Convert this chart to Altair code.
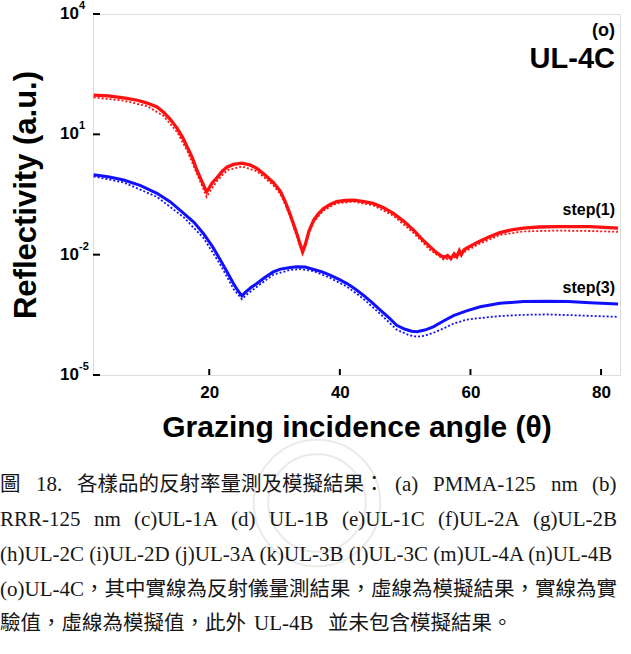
import altair as alt
import pandas as pd

# ---- reflectivity curves (angle in degrees, log10 of reflectivity) ----
ang_step1_meas = [2.3, 4.5, 6.9, 9.0, 10.5, 12.0, 13.0, 14.0, 15.1, 16.0, 16.6, 17.4, 18.1, 18.8,
                  19.3, 19.6, 19.9, 20.5, 21.2, 22.0, 22.7, 23.7, 25.0, 26.2, 27.3, 28.5, 29.8,
                  30.9, 31.7, 32.4, 33.3, 34.0, 34.3, 34.7, 35.3, 36.0, 36.7, 37.5, 38.5, 39.5,
                  40.8, 42.1, 43.5, 45.1, 46.7, 48.2, 49.8, 51.3, 52.5, 53.8, 54.8, 55.9, 56.5,
                  57.0, 57.5, 57.9, 58.3, 58.6, 59.0, 59.4, 60.4, 61.5, 63.0, 64.5, 66.3, 68.1,
                  70.5, 73.2, 76.0, 78.3, 80.5, 82.6]
log_step1_meas = [1.98, 1.96, 1.91, 1.85, 1.78, 1.68, 1.55, 1.38, 1.15, 0.90, 0.69, 0.42, 0.11, -0.15,
                  -0.33, -0.43, -0.36, -0.20, -0.08, 0.08, 0.18, 0.25, 0.28, 0.24, 0.15, -0.01, -0.20,
                  -0.42, -0.70, -1.00, -1.42, -1.78, -1.93, -1.75, -1.40, -1.14, -0.98, -0.85, -0.75, -0.68,
                  -0.65, -0.64, -0.67, -0.72, -0.83, -0.97, -1.17, -1.39, -1.60, -1.80, -1.95, -2.07, -2.02,
                  -2.10, -1.98, -2.05, -1.90, -2.00, -1.88, -1.84, -1.75, -1.66, -1.55, -1.45, -1.38, -1.34,
                  -1.31, -1.30, -1.30, -1.30, -1.32, -1.34]

ang_step1_sim = [2.3, 6.9, 10.5, 13.0, 15.1, 16.6, 18.1, 19.0, 19.6, 20.0, 21.2, 22.7, 25.0, 27.3,
                 29.8, 30.9, 31.7, 32.4, 33.3, 34.3, 35.3, 36.0, 37.5, 39.5, 42.1, 45.1, 48.2, 51.3,
                 53.8, 55.9, 57.4, 59.4, 61.5, 64.5, 68.1, 73.2, 78.3, 82.6]
log_step1_sim = [1.92, 1.84, 1.70, 1.46, 1.05, 0.60, 0.02, -0.32, -0.56, -0.45, -0.16, 0.10, 0.20, 0.08,
                 -0.27, -0.49, -0.77, -1.07, -1.48, -1.98, -1.45, -1.18, -0.90, -0.72, -0.68, -0.77, -1.03,
                 -1.46, -1.88, -2.12, -2.08, -1.90, -1.72, -1.51, -1.42, -1.40, -1.41, -1.43]

ang_step3_meas = [2.3, 4.5, 6.9, 9.5, 12.0, 14.0, 16.1, 17.7, 19.1, 20.5, 21.7, 22.8, 23.7, 24.4,
                  25.0, 25.6, 26.4, 27.3, 28.5, 29.8, 30.9, 32.4, 33.4, 34.7, 36.0, 37.3, 38.5, 39.8,
                  41.1, 42.3, 43.6, 44.9, 46.2, 47.5, 48.7, 50.0, 51.0, 51.8, 53.0, 54.3, 55.8, 57.4,
                  59.4, 61.5, 64.5, 68.1, 71.7, 75.0, 78.3, 82.6]
log_step3_meas = [-0.01, -0.06, -0.14, -0.28, -0.47, -0.68, -0.97, -1.20, -1.47, -1.80, -2.13, -2.45, -2.72, -2.90,
                  -3.03, -2.93, -2.82, -2.72, -2.57, -2.43, -2.36, -2.32, -2.30, -2.31, -2.37, -2.43, -2.51, -2.61,
                  -2.72, -2.85, -3.01, -3.19, -3.38, -3.57, -3.76, -3.86, -3.91, -3.92, -3.88, -3.80, -3.66, -3.52,
                  -3.40, -3.30, -3.21, -3.17, -3.16, -3.17, -3.20, -3.23]

ang_step3_sim = [2.3, 6.9, 12.0, 16.1, 19.1, 21.7, 23.7, 25.0, 25.7, 27.3, 29.8, 32.4, 34.0, 36.0,
                 38.5, 41.1, 43.6, 46.2, 48.7, 50.5, 51.8, 53.0, 54.3, 56.0, 57.4, 59.4, 61.5, 64.5,
                 68.1, 71.7, 75.7, 79.0, 82.6]
log_step3_sim = [-0.05, -0.20, -0.56, -1.07, -1.58, -2.25, -2.85, -3.11, -3.00, -2.80, -2.50, -2.38, -2.36, -2.41,
                 -2.58, -2.80, -3.10, -3.48, -3.87, -4.00, -4.05, -4.02, -3.95, -3.83, -3.72, -3.62, -3.58, -3.53,
                 -3.50, -3.49, -3.51, -3.53, -3.55]

x_tick_values = [20, 40, 60, 80]
y_tick_values = [1e4, 1e1, 1e-2, 1e-5]
y_tick_exponents = ["4", "1", "-2", "-5"]

# caption: one list of (text, left offset in px) runs per printed line (justified)
caption_runs = [
    [("圖", 0), ("18.", 36), ("各樣品的反射率量測及模擬結果：", 77), ("(a)", 395),
     ("PMMA-125", 433), ("nm", 551), ("(b)", 592)],
    [("RRR-125", 0), ("nm", 94), ("(c)UL-1A", 134), ("(d)", 231), ("UL-1B", 269),
     ("(e)UL-1C", 342), ("(f)UL-2A", 438), ("(g)UL-2B", 533)],
    [("(h)UL-2C (i)UL-2D (j)UL-3A (k)UL-3B (l)UL-3C (m)UL-4A (n)UL-4B", 0)],
    [("(o)UL-4C", 0), ("，其中實線為反射儀量測結果，虛線為模擬結果，實線為實", 84)],
    [("驗值，虛線為模擬值，此外", 0), ("UL-4B", 254), ("並未包含模擬結果。", 328)],
]
caption_line_y = [485, 520, 555, 590, 624]

W, H = 527, 361
LEFT, TOP = 93, 14
SANS = "Liberation Sans"
SERIF = "Liberation Serif"
CJK = "Noto Sans CJK TC"
RED = "#ff1010"
BLUE = "#1010ff"


def curve(angles, logs, name):
    return pd.DataFrame({"angle": angles, "refl": [10 ** v for v in logs], "series": name})


curves = pd.concat([
    curve(ang_step1_meas, log_step1_meas, "step1_meas"),
    curve(ang_step1_sim, log_step1_sim, "step1_sim"),
    curve(ang_step3_meas, log_step3_meas, "step3_meas"),
    curve(ang_step3_sim, log_step3_sim, "step3_sim"),
])

xscale = alt.Scale(domain=[2.2, 82.9], nice=False, zero=False)
yscale = alt.Scale(type="log", domain=[1e-5, 1e4], nice=False)

xaxis = alt.Axis(values=x_tick_values, ticks=False, domain=False, grid=False,
                 labelFont=SANS, labelFontWeight="bold", labelFontSize=17, labelColor="black",
                 labelPadding=9, title="Grazing incidence angle (θ)", titleFont=SANS,
                 titleFontWeight="bold", titleFontSize=30, titleColor="black", titlePadding=12)
yaxis = alt.Axis(labels=False, ticks=False, domain=False, grid=False,
                 title="Reflectivity (a.u.)", titleFont=SANS, titleFontWeight="bold",
                 titleFontSize=31, titleColor="black", titlePadding=51)

X = alt.X("angle:Q", scale=xscale, axis=xaxis)
Y = alt.Y("refl:Q", scale=yscale, axis=yaxis)

base = alt.Chart(curves)


def line(series, color, width, dash=None):
    kw = dict(color=color, strokeWidth=width, clip=True)
    if dash:
        kw["strokeDash"] = dash
    return base.transform_filter(alt.datum.series == series).mark_line(**kw).encode(x=X, y=Y)


lines = [
    line("step1_sim", RED, 1.8, [2, 2]),
    line("step1_meas", RED, 3.3),
    line("step3_sim", BLUE, 1.8, [2, 2]),
    line("step3_meas", BLUE, 3.0),
]

xt = pd.DataFrame({"angle": x_tick_values})
yt = pd.DataFrame({"refl": y_tick_values, "exp": y_tick_exponents})

# inward ticks on the bottom and left frame edges
x_ticks = alt.Chart(xt).mark_rule(color="black", strokeWidth=2).encode(
    x=X, y=alt.value(H), y2=alt.value(H - 6))
y_ticks = alt.Chart(yt).mark_rule(color="black", strokeWidth=2).encode(
    y=Y, x=alt.value(0), x2=alt.value(7))

# "10" with a raised exponent for each decade label
y_base_lbl = alt.Chart(yt).mark_text(font=SANS, fontWeight="bold", fontSize=17, align="right",
                                     baseline="middle", color="black").encode(
    y=Y, x=alt.value(-14), text=alt.value("10"))
y_exp_lbl = alt.Chart(yt).mark_text(font=SANS, fontWeight="bold", fontSize=11, align="left",
                                    baseline="middle", dy=-8, color="black").encode(
    y=Y, x=alt.value(-14), text="exp:N")


def label(txt, x, y, size, align="right", font=SANS, weight="bold", color="black"):
    return alt.Chart(pd.DataFrame({"t": [txt]})).mark_text(
        font=font, fontWeight=weight, fontSize=size, align=align, baseline="middle",
        color=color).encode(x=alt.value(x), y=alt.value(y), text="t:N")


annotations = [
    label("(o)", 522, 17, 18),
    label("UL-4C", 522, 45, 29),
    label("step(1)", 522, 196, 16),
    label("step(3)", 522, 274, 16),
]


def is_cjk(s):
    return any(ord(c) > 0x2E80 for c in s)


captions = []
for runs, y in zip(caption_runs, caption_line_y):
    for txt, dx in runs:
        cjk = is_cjk(txt)
        captions.append(label(txt, dx - LEFT, y - TOP, 20.5 if cjk else 21,
                              align="left", font=CJK if cjk else SERIF,
                              weight="normal", color="#161616"))

# faint round seal printed behind the caption
seal = alt.Chart(pd.DataFrame({"k": [0, 1]})).mark_point(
    shape="circle", filled=False, color="#e2e2e2", strokeWidth=2).encode(
    x=alt.value(317 - LEFT), y=alt.value(503 - TOP),
    size=alt.Size("k:O", scale=alt.Scale(range=[16000, 9500]), legend=None))

chart = alt.layer(
    seal, *lines, x_ticks, y_ticks, y_base_lbl, y_exp_lbl, *annotations, *captions
).properties(
    width=W, height=H,
    autosize=alt.AutoSizeParams(type="none"),
    padding={"left": LEFT, "top": TOP, "right": 631 - LEFT - W, "bottom": 654 - TOP - H},
).configure_view(
    stroke="black", strokeWidth=2.5
).configure(background="white")

chart.save("out.html", embed_options={"renderer": "svg", "actions": False})
